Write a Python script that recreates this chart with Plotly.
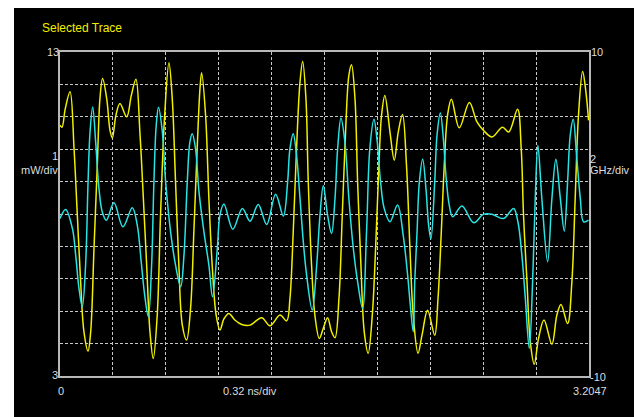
import plotly.graph_objects as go

# Time base (ns) and optical power (mW) of the selected trace
power_time = [
    0.000, 0.012, 0.032, 0.061, 0.085, 0.105, 0.125, 0.145, 0.170, 0.186,
    0.206, 0.226, 0.242, 0.258, 0.283, 0.303, 0.317, 0.339, 0.363, 0.404,
    0.432, 0.460, 0.484, 0.505, 0.525, 0.545, 0.565, 0.589, 0.609, 0.634,
    0.660, 0.680, 0.700, 0.720, 0.741, 0.767, 0.791, 0.811, 0.831, 0.848,
    0.858, 0.882, 0.902, 0.922, 0.946, 0.969, 0.993, 1.023, 1.059, 1.101,
    1.151, 1.222, 1.272, 1.333, 1.373, 1.393, 1.413, 1.433, 1.454, 1.470,
    1.490, 1.504, 1.524, 1.544, 1.571, 1.595, 1.621, 1.645, 1.666, 1.690,
    1.710, 1.730, 1.750, 1.766, 1.787, 1.803, 1.823, 1.843, 1.867, 1.892,
    1.912, 1.932, 1.948, 1.968, 1.999, 2.025, 2.049, 2.075, 2.099, 2.120,
    2.140, 2.169, 2.193, 2.227, 2.270, 2.290, 2.310, 2.328, 2.348, 2.371,
    2.419, 2.480, 2.526, 2.566, 2.617, 2.681, 2.718, 2.772, 2.794, 2.808,
    2.829, 2.849, 2.873, 2.899, 2.932, 2.980, 3.010, 3.035, 3.075, 3.101,
    3.121, 3.141, 3.166, 3.186, 3.202,
]
power_mw = [
    10.74, 10.68, 11.25, 11.77, 10.02, 7.96, 5.91, 4.37, 3.77, 4.37,
    6.94, 9.51, 11.56, 12.18, 11.56, 10.58, 10.35, 11.05, 11.41, 11.00,
    11.66, 12.16, 10.53, 8.48, 6.42, 4.37, 3.54, 4.88, 7.96, 11.05,
    12.67, 11.56, 8.99, 6.42, 4.57, 4.11, 5.09, 7.45, 10.02, 11.87,
    12.36, 11.05, 8.48, 6.42, 4.88, 4.42, 4.76, 4.93, 4.73, 4.59,
    4.57, 4.80, 4.55, 4.88, 4.70, 5.39, 7.45, 10.02, 12.08, 12.71,
    11.56, 8.99, 6.42, 4.88, 4.16, 4.47, 4.80, 4.37, 4.18, 5.39,
    7.96, 10.53, 12.28, 12.61, 11.56, 8.99, 6.42, 4.37, 3.70, 4.88,
    6.94, 9.51, 11.05, 11.66, 10.53, 9.66, 10.53, 11.07, 9.51, 6.94,
    4.88, 3.70, 4.26, 5.03, 4.26, 5.39, 7.45, 9.51, 11.05, 11.54,
    10.66, 11.44, 10.84, 10.58, 10.38, 10.68, 10.53, 11.23, 10.02, 7.96,
    5.91, 4.06, 3.36, 4.16, 4.73, 3.98, 4.88, 5.21, 4.62, 5.91,
    8.48, 11.05, 12.40, 11.77, 10.89,
]

# Time base (ns) and frequency chirp (GHz)
chirp_time = [
    0.000, 0.034, 0.075, 0.095, 0.115, 0.135, 0.155, 0.170, 0.182, 0.198,
    0.216, 0.236, 0.256, 0.281, 0.327, 0.381, 0.438, 0.468, 0.492, 0.513,
    0.535, 0.555, 0.569, 0.583, 0.597, 0.620, 0.640, 0.670, 0.700, 0.731,
    0.751, 0.771, 0.787, 0.801, 0.821, 0.842, 0.872, 0.902, 0.924, 0.953,
    0.969, 0.993, 1.047, 1.105, 1.151, 1.201, 1.252, 1.306, 1.353, 1.379,
    1.393, 1.413, 1.433, 1.454, 1.474, 1.494, 1.528, 1.555, 1.575, 1.595,
    1.621, 1.645, 1.666, 1.682, 1.702, 1.726, 1.750, 1.777, 1.803, 1.833,
    1.857, 1.877, 1.902, 1.922, 1.942, 1.964, 1.999, 2.045, 2.079, 2.106,
    2.122, 2.140, 2.149, 2.163, 2.177, 2.197, 2.217, 2.233, 2.247, 2.270,
    2.284, 2.304, 2.324, 2.338, 2.358, 2.379, 2.435, 2.506, 2.566, 2.617,
    2.687, 2.748, 2.774, 2.798, 2.819, 2.843, 2.863, 2.879, 2.895, 2.919,
    2.954, 2.980, 3.004, 3.031, 3.055, 3.075, 3.091, 3.109, 3.131, 3.152,
    3.172, 3.202,
]
chirp_ghz = [
    -0.28, 0.28, -0.89, -2.54, -4.59, -5.72, -3.16, 1.98, 5.07, 6.61,
    4.45, 1.57, 0.13, -0.38, 0.69, -0.79, 0.38, -0.69, -2.95, -5.01,
    -6.34, -3.16, 1.98, 5.48, 6.59, 5.07, 1.98, -1.10, -3.16, -4.49,
    -2.54, 1.98, 4.45, 4.96, 4.04, 1.37, -1.10, -3.16, -5.11, -2.13,
    -0.07, 0.61, -0.94, 0.34, -0.44, 0.59, -0.65, 1.22, -0.13, 1.98,
    4.04, 4.96, 3.63, 0.96, -1.72, -3.77, -5.93, -3.16, -0.07, 1.74,
    -0.07, -1.20, 0.96, 4.04, 5.93, 4.45, 0.96, -2.13, -4.18, -5.83,
    -1.10, 4.04, 5.85, 4.45, 1.98, 0.34, -0.48, 0.55, -1.31, -3.77,
    -5.60, -7.27, -4.18, -1.10, 1.98, 3.38, 1.57, -0.69, -1.55, 1.98,
    4.86, 6.24, 4.45, 2.39, 0.55, -0.17, 0.50, -0.54, -0.01, -0.01,
    -0.28, 0.34, -0.48, -2.54, -5.21, -8.29, -4.18, 0.96, 4.24, 0.96,
    -2.95, 0.96, 3.38, 0.96, -1.06, 1.98, 4.86, 5.85, 3.42, 0.96,
    -0.48, -0.38,
]

t_span = 3.2047          # ns shown across the screen
t_div = 0.32             # ns per division (label)
p_range = [3, 13]        # mW, left scale
f_range = [-10, 10]      # GHz, right scale

YELLOW = "#f0f000"
CYAN = "#28e4e4"
TEXT = "#dcdcdc"
FONT = "Liberation Sans, Arial, sans-serif"

W, H = 634, 417
L, R, T, B = 60, 45, 52, 41
PW, PH = W - L - R, H - T - B


def px(x):
    return (x - L) / PW


def py(y):
    return (H - B - y) / PH


fig = go.Figure()
fig.add_trace(go.Scatter(
    x=chirp_time, y=chirp_ghz, yaxis="y2", mode="lines",
    line=dict(color=CYAN, width=1.5, shape="spline", smoothing=1.0),
    hoverinfo="skip",
))
fig.add_trace(go.Scatter(
    x=power_time, y=power_mw, yaxis="y", mode="lines",
    line=dict(color=YELLOW, width=1.5, shape="spline", smoothing=1.0),
    hoverinfo="skip",
))

grid = dict(showgrid=True, gridcolor="#c8c8c8", gridwidth=1, griddash="3px,2px",
            zeroline=False, showticklabels=False, ticks="",
            showline=True, linecolor="#b8b8b8", linewidth=2, mirror=True)

fig.update_layout(
    width=W, height=H,
    margin=dict(l=L, r=R, t=T, b=B, pad=0),
    paper_bgcolor="white",
    plot_bgcolor="black",
    showlegend=False,
    xaxis=dict(range=[0, t_span], dtick=t_span / 10, tick0=0, **grid),
    yaxis=dict(range=p_range, dtick=1, tick0=3, **grid),
    yaxis2=dict(range=f_range, overlaying="y", side="right", showgrid=False,
                zeroline=False, showticklabels=False, ticks="", showline=False),
    shapes=[dict(type="rect", xref="paper", yref="paper", layer="below",
                 x0=px(14), x1=px(W + 2), y0=py(8), y1=py(H + 2),
                 fillcolor="black", line=dict(width=0))],
)


def label(text, x, y, xanchor, color=TEXT, size=11):
    fig.add_annotation(text=text, x=px(x), y=py(y), xref="paper", yref="paper",
                       xanchor=xanchor, yanchor="middle", showarrow=False,
                       font=dict(family=FONT, size=size, color=color),
                       borderpad=0, borderwidth=0)


label("Selected Trace", 42, 28, "left", color=YELLOW, size=12)
label(f"{p_range[1]}", 59, 52, "right")
label("1", 58, 156, "right")
label("mW/div", 58, 170, "right")
label(f"{p_range[0]}", 58, 375, "right")
label(f"{f_range[1]}", 591, 52, "left")
label("2", 590, 159, "left")
label("GHz/div", 590, 170, "left")
label(f"{f_range[0]}", 590, 377, "left")
label("0", 61, 391, "center")
label(f"{t_div} ns/div", 250, 391, "center")
label(f"{t_span}", 590, 391, "center")

fig.write_html("out.html")
